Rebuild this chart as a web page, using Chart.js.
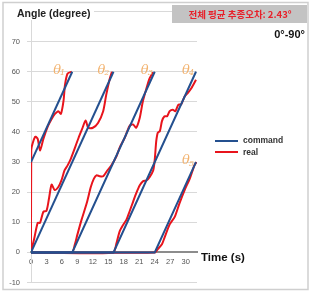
<!DOCTYPE html>
<html>
<head>
<meta charset="utf-8">
<style>
  html, body { margin: 0; padding: 0; background: #fff; }
  #wrap { width: 313px; height: 294px; }
</style>
<script src="https://cdn.jsdelivr.net/npm/chart.js@4"></script>
</head>
<body>
<div id="wrap"><canvas id="chart" width="313" height="294"></canvas></div>
<script>
// ── Data (time in s, angle in degree) ──
const xTicks = [0, 3, 6, 9, 12, 15, 18, 21, 24, 27, 30];
const yTicks = [-10, 0, 10, 20, 30, 40, 50, 60, 70, 80];

// command (blue)
const cmd1T = [0, 8];         const cmd1 = [30, 60];
const cmd2T = [0, 16];        const cmd2 = [0, 60];
const cmd3T = [0, 8, 24];     const cmd3 = [0, 0, 60];
const cmd4T = [0, 16, 32];    const cmd4 = [0, 0, 60];
const cmd5T = [0, 24, 32];    const cmd5 = [0, 0, 30];

// real (red)
const real1T = [0, 0.05, 0.8, 1.3, 1.75, 2.4, 3.3, 4.0, 4.6, 5.3, 5.8, 6.3, 6.6, 7.1, 7.9];
const real1  = [0, 34, 38.4, 37.7, 33.8, 37.7, 42, 44.3, 45.9, 46.9, 46, 50.2, 55.7, 59.4, 60];
const real2T = [0, 0.65, 1.3, 1.75, 2.4, 3.0, 3.5, 4.0, 4.6, 5.3, 5.9, 6.5, 7.1, 7.7, 9.2, 9.9, 10.6, 11.1, 12.0, 13.0, 14.0, 14.6, 15.3, 15.7];
const real2  = [0, 4.8, 9.8, 9.8, 13.5, 13.8, 18, 22.5, 20.7, 21.7, 23.9, 27.2, 28.9, 31, 37.9, 40.9, 43.8, 41.4, 41.4, 43, 46.9, 52.4, 57.8, 60];
const real3T = [0, 7.9, 8.5, 9.0, 9.8, 10.8, 11.6, 12.2, 12.7, 13.3, 14.0, 14.8, 15.6, 16.6, 17.2, 18.2, 19.1, 19.8, 20.4, 21.1, 21.7, 22.4, 23.0, 23.7];
const real3  = [0, 0, 2.6, 5.9, 10.8, 16.3, 21.7, 24.5, 25.6, 25.3, 25.3, 27.2, 28.9, 32, 34.8, 38.1, 42, 42.5, 41.4, 44.7, 50.2, 54.5, 57.8, 59.8];
const real4T = [0, 15.9, 16.6, 17.2, 17.9, 18.5, 19.1, 19.8, 20.4, 21.1, 21.7, 22.4, 23.0, 23.7, 24.0, 24.3, 24.6, 25.0, 25.4, 25.9, 26.4, 26.9, 27.5, 28.0, 28.6, 29.1, 29.8, 30.4, 31.1, 32.0];
const real4  = [0, 0, 3.2, 7, 9.2, 10.8, 13.5, 16.8, 19.6, 22.3, 23.6, 23.9, 25, 27.2, 30.7, 37, 39.8, 40.3, 43.6, 45.2, 45.2, 46.9, 47.4, 46.9, 49.1, 49.1, 51.8, 52.9, 54.5, 57.3];
const real5T = [0, 24.0, 24.6, 25.4, 25.9, 26.9, 27.9, 28.8, 29.8, 30.8, 31.7, 32.1];
const real5  = [0, 0, 1.1, 2.7, 4.9, 9.3, 11.9, 16.3, 20.7, 24.5, 28.9, 30];

const thetaNames = ['1', '2', '3', '4', '5'];

// ── Styles ──
const BLUE = '#24508f';
const RED = '#e8141c';
const ORANGE = '#f2b26e';
const FONT = "'Liberation Sans', Arial, sans-serif";

function pts(ts, vs) {
  return ts.map((t, i) => ({ x: t, y: vs[i] }));
}

function cmdSet(ts, vs, label) {
  return { label, data: pts(ts, vs), borderColor: BLUE, borderWidth: 2, tension: 0, pointRadius: 0 };
}

function realSet(ts, vs, label) {
  return { label, data: pts(ts, vs), borderColor: RED, borderWidth: 2, tension: 0.25, pointRadius: 0 };
}

// ── Annotations drawn on top of the chart ──
const decorPlugin = {
  id: 'decor',
  afterDraw(chart) {
    const ctx = chart.ctx;
    const xs = chart.scales.x, ys = chart.scales.y;
    ctx.save();

    // outer frame
    ctx.strokeStyle = '#cfcfcf';
    ctx.lineWidth = 1.5;
    ctx.strokeRect(3, 2.5, 305, 287);

    // y title
    ctx.fillStyle = '#fff';
    ctx.fillRect(12, 4, 82, 16);
    ctx.fillStyle = '#222';
    ctx.font = `bold 10.5px ${FONT}`;
    ctx.textBaseline = 'middle';
    ctx.textAlign = 'left';
    ctx.fillText('Angle (degree)', 17, 14);

    // error box
    ctx.fillStyle = '#c3c3c3';
    ctx.fillRect(172, 5, 135, 18);
    ctx.fillStyle = '#e8202a';
    ctx.font = `bold 9.5px 'Noto Sans CJK KR', ${FONT}`;
    ctx.textAlign = 'center';
    ctx.fillText('전체 평균 추종오차: 2.43°', 240, 14);

    // range label
    ctx.fillStyle = '#111';
    ctx.font = `bold 11px ${FONT}`;
    ctx.textAlign = 'right';
    ctx.fillText('0°-90°', 305, 35);

    // x title
    ctx.textAlign = 'left';
    ctx.font = `bold 11.5px ${FONT}`;
    ctx.fillText('Time (s)', 201, 258);

    // legend
    ctx.lineWidth = 2;
    ctx.strokeStyle = BLUE;
    ctx.beginPath(); ctx.moveTo(215, 141); ctx.lineTo(238, 141); ctx.stroke();
    ctx.strokeStyle = RED;
    ctx.beginPath(); ctx.moveTo(215, 152); ctx.lineTo(238, 152); ctx.stroke();
    ctx.fillStyle = '#333';
    ctx.font = `bold 8.5px ${FONT}`;
    ctx.fillText('command', 243, 141);
    ctx.fillText('real', 243, 153);

    // joint labels θ1..θ5
    const spots = [[4.3, 60.5], [12.9, 60.5], [21.3, 60.5], [29.3, 60.5], [29.3, 30.5]];
    ctx.fillStyle = ORANGE;
    spots.forEach(([t, v], i) => {
      const px = xs.getPixelForValue(t), py = ys.getPixelForValue(v);
      ctx.font = `italic 13px 'DejaVu Serif', serif`;
      ctx.fillText('θ', px, py);
      const w = ctx.measureText('θ').width;
      ctx.font = `italic 8px 'DejaVu Serif', serif`;
      ctx.fillText(thetaNames[i], px + w - 1, py + 3);
    });

    ctx.restore();
  }
};

new Chart(document.getElementById('chart'), {
  type: 'line',
  data: {
    datasets: [
      cmdSet(cmd1T, cmd1, 'command'),
      cmdSet(cmd2T, cmd2, 'command'),
      cmdSet(cmd3T, cmd3, 'command'),
      cmdSet(cmd4T, cmd4, 'command'),
      cmdSet(cmd5T, cmd5, 'command'),
      realSet(real1T, real1, 'real'),
      realSet(real2T, real2, 'real'),
      realSet(real3T, real3, 'real'),
      realSet(real4T, real4, 'real'),
      realSet(real5T, real5, 'real')
    ]
  },
  options: {
    responsive: false,
    animation: false,
    devicePixelRatio: 1,
    layout: { padding: { left: 0, top: 10, right: 116, bottom: 11 } },
    plugins: { legend: { display: false }, tooltip: { enabled: false } },
    scales: {
      x: {
        type: 'linear',
        min: 0,
        max: 32.2,
        position: { y: 0 },
        afterBuildTicks: s => { s.ticks = xTicks.map(v => ({ value: v })); },
        grid: { display: false, drawTicks: false },
        border: { color: '#8c8c8c', width: 2 },
        ticks: { color: '#555', font: { family: FONT, size: 7.5 }, padding: 5, maxRotation: 0, autoSkip: false }
      },
      y: {
        min: -10,
        max: 80,
        afterBuildTicks: s => { s.ticks = yTicks.map(v => ({ value: v })); },
        afterFit: s => { s.width = 31; },
        grid: { color: '#d9d9d9', tickLength: 4 },
        border: { color: '#d9d9d9' },
        ticks: {
          color: '#555',
          font: { family: FONT, size: 7.5 },
          padding: 7,
          callback: v => (v === 80 ? '' : v)
        }
      }
    }
  },
  plugins: [decorPlugin]
});
</script>
</body>
</html>
